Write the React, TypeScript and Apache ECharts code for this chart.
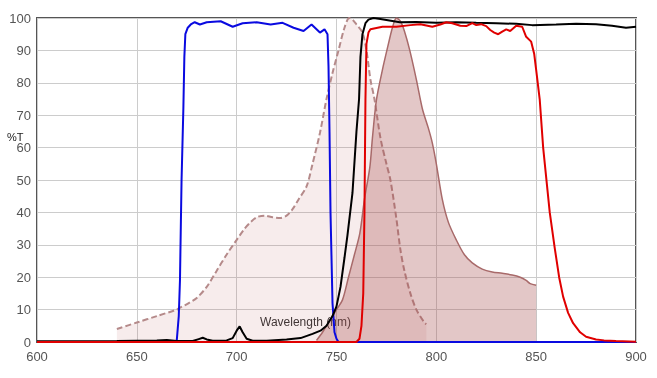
import React, { useEffect, useRef } from "react";
import * as echarts from "echarts";

// Excitation spectrum (light, dashed)
const excNm = [640, 650, 660, 670, 672, 676, 680, 685, 690, 695, 700, 704, 707, 710, 714, 718, 722, 725, 728, 731, 735, 738, 741.7, 745, 748, 751, 754, 756.4, 758, 760, 763, 765, 767, 769, 772, 775, 777, 780, 782, 784, 787, 790, 794, 795];
const excVal = [4, 6, 8, 10, 10.7, 12, 13.6, 17, 22, 27, 31.5, 35, 37, 38.5, 39, 38.5, 38.3, 39, 41, 44, 48, 55, 64.5, 75, 83, 90, 97, 100, 99.5, 98, 95.5, 90, 81, 75, 63, 55, 50, 38, 28.5, 22, 15, 10, 6, 5.5];

// Emission spectrum (dark fill)
const emNm = [740, 743, 746, 750, 753, 756, 759, 761.7, 764, 766.7, 768, 770, 773, 776, 778, 780, 782, 784, 786.7, 790, 793, 796, 798, 800, 803, 806, 810, 814, 818, 823, 828, 833, 838, 842, 845, 847, 850];
const emVal = [0.5, 3, 6, 10, 13, 20, 27, 33.6, 44, 54, 63, 74.7, 84, 92, 97, 100, 99, 96, 90, 81, 72, 66, 61.4, 55, 44, 37, 31.5, 27, 24.4, 22.5, 21.6, 21.2, 20.7, 20, 19, 18, 17.5];

// Excitation filter (blue)
const blueNm = [600, 665, 669, 670, 671, 671.6, 672.4, 673.3, 673.8, 674.3, 675.5, 677, 679, 681.6, 685, 692, 698, 703, 710, 717, 723, 728.5, 733.5, 737.5, 741.7, 744, 745.5, 746, 746.5, 747, 748, 749, 750, 751, 900];
const blueVal = [0, 0, 0, 0.5, 8, 19, 50, 72, 88, 95, 97, 98, 98.7, 98, 98.7, 99, 97.3, 98.4, 98.7, 98, 98.5, 97, 96, 98, 95.5, 96.5, 95, 85, 65, 40, 12, 3, 1, 0, 0];

// Dichroic (black)
const blackNm = [600, 640, 660, 665, 670, 678, 681, 683, 685, 688, 695, 698, 700, 701.5, 703, 705, 708, 715, 725, 732, 738, 742, 745, 748, 750, 752, 754, 755.5, 758, 760, 761.3, 762, 763, 764.5, 766, 768.5, 772, 775, 781.7, 790, 800, 810, 820, 830, 840, 848, 860, 870, 880, 888, 895, 900];
const blackVal = [0.2, 0.3, 0.5, 0.6, 0.3, 0.3, 0.9, 1.3, 0.8, 0.4, 0.5, 1.2, 3.5, 4.8, 3, 1, 0.4, 0.4, 0.8, 1.2, 2.5, 3.5, 5, 8, 11, 17, 26, 33, 46, 65, 75, 88, 95, 98.4, 99.5, 100, 99.7, 99.4, 98.7, 98.8, 98.5, 98.7, 98.5, 98.4, 98.2, 97.8, 98, 98.2, 98.1, 97.6, 97, 97.3];

// Emission filter (red)
const redNm = [600, 760, 761.5, 762.5, 763.4, 764, 764.5, 765, 766, 767, 773, 780, 787, 792, 798, 802, 805, 808, 812, 815, 818, 820, 822.4, 825, 827, 829, 831, 833, 835, 837, 840, 843, 845, 847.5, 849, 850, 851.8, 853.5, 856.8, 859.3, 861.5, 863.5, 866, 868.5, 872, 875, 880, 884, 890, 900];
const redVal = [0, 0, 1, 5, 15, 40, 75, 92, 95.5, 96.5, 97.3, 97.3, 97.8, 98.1, 97.3, 98, 98.7, 98.4, 97.6, 97.5, 98.4, 97.8, 98.1, 97.5, 96.3, 95.5, 95, 95.8, 96.5, 96, 97.6, 97.3, 94.2, 92.7, 89, 84, 74.7, 60, 40, 29, 20, 14, 9, 5.8, 3, 1.6, 0.8, 0.5, 0.3, 0.1];

const xMin = 600, xMax = 900, xStep = 50;
const yMin = 0, yMax = 100, yStep = 10;
const yTitle = "%T";
const xTitle = "Wavelength (nm)";

const pairs = (xs: number[], ys: number[]) => xs.map((x, i) => [x, ys[i]]);

export default function App() {
  const ref = useRef<HTMLDivElement>(null);
  useEffect(() => {
    if (!ref.current) return;
    const chart = echarts.init(ref.current, null, { renderer: "svg" });
    const font = "Arial, 'Liberation Sans', sans-serif";
    chart.setOption({
      animation: false,
      grid: { left: 37, right: 21, top: 18, bottom: 36, show: true, borderColor: "#555", borderWidth: 2, backgroundColor: "transparent" },
      xAxis: {
        type: "value", min: xMin, max: xMax, interval: xStep,
        axisLine: { show: false }, axisTick: { show: false },
        axisLabel: { color: "#555", fontSize: 13, fontFamily: font, margin: 8 },
        splitLine: { show: true, lineStyle: { color: "#cccccc", width: 1 } },
      },
      yAxis: {
        type: "value", min: yMin, max: yMax, interval: yStep,
        axisLine: { show: false }, axisTick: { show: false },
        axisLabel: { color: "#555", fontSize: 13, fontFamily: font, margin: 6 },
        splitLine: { show: true, lineStyle: { color: "#cccccc", width: 1 } },
      },
      graphic: [
        { type: "text", left: 7, top: 131, style: { text: yTitle, fill: "#222", font: `11px ${font}` } },
        { type: "text", left: 260, top: 316, style: { text: xTitle, fill: "#333", font: `12px ${font}` } },
      ],
      series: [
        {
          type: "line", data: pairs(excNm, excVal), showSymbol: false, smooth: 0.3,
          lineStyle: { color: "#b58a8a", width: 2, type: [6, 3] },
          areaStyle: { color: "rgba(180,80,80,0.15)" }, z: 1,
        },
        {
          type: "line", data: pairs(emNm, emVal), showSymbol: false, smooth: 0.3,
          lineStyle: { color: "#a86a6a", width: 1.5 },
          areaStyle: { color: "rgba(165,75,75,0.45)" }, z: 2,
        },
        {
          type: "line", data: pairs(blueNm, blueVal), showSymbol: false, smooth: false, clip: false,
          lineStyle: { color: "#0a0ae0", width: 2 }, z: 3,
        },
        {
          type: "line", data: pairs(blackNm, blackVal), showSymbol: false, smooth: false, clip: false,
          lineStyle: { color: "#000000", width: 2 }, z: 4,
        },
        {
          type: "line", data: pairs(redNm, redVal), showSymbol: false, smooth: false, clip: false,
          lineStyle: { color: "#e00000", width: 2 }, z: 5,
        },
      ],
    });
    return () => chart.dispose();
  }, []);
  return <div ref={ref} style={{ position: "fixed", left: 0, top: 0, width: 657, height: 378 }} />;
}
